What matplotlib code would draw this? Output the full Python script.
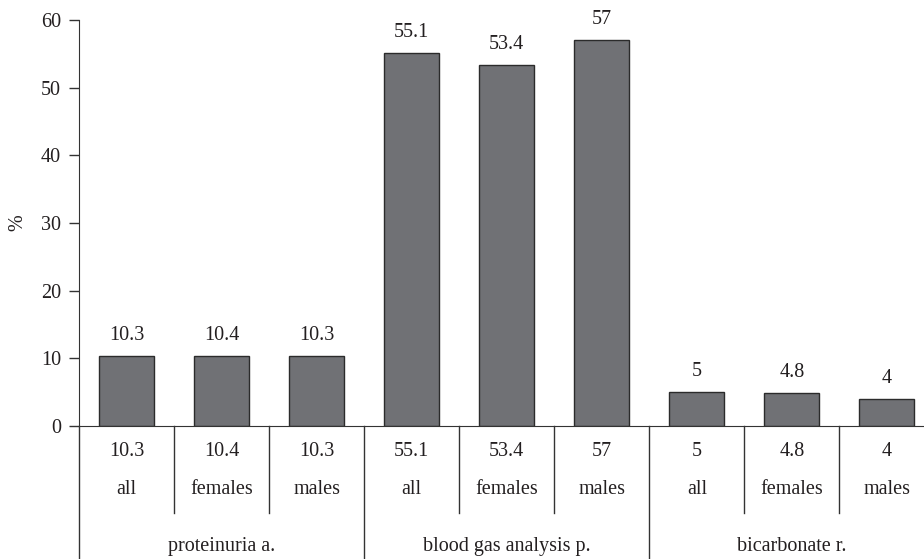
import matplotlib.pyplot as plt
import matplotlib.transforms as mtransforms

# data
groups = ["proteinuria a.", "blood gas analysis p.", "bicarbonate r."]
subgroups = ["all", "females", "males"]
values = [10.3, 10.4, 10.3, 55.1, 53.4, 57, 5, 4.8, 4]
value_labels = ["10.3", "10.4", "10.3", "55.1", "53.4", "57", "5", "4.8", "4"]
yticks = [0, 10, 20, 30, 40, 50, 60]

plt.rcParams["font.family"] = ["Liberation Serif", "DejaVu Serif"]
plt.rcParams["font.size"] = 14.5

fig = plt.figure(figsize=(9.24, 5.59), dpi=100)
ax = fig.add_axes([0.0855, 0.238, 0.9145, 0.726])

x = list(range(len(values)))
ax.bar(x, values, width=0.58, color="#707175", edgecolor="#2b2b2b", linewidth=1.0)

for xi, v, lab in zip(x, values, value_labels):
    ax.annotate(lab, (xi, v), xytext=(0, 8), textcoords="offset points",
                ha="center", va="bottom", color="#231f20")

ax.set_xlim(-0.5, 8.39)
ax.set_ylim(0, 60)
ax.set_yticks(yticks)
ax.set_xticks([])
ax.tick_params(axis="y", length=7, width=1, color="#333333", labelcolor="#231f20", pad=6)
for s in ["top", "right"]:
    ax.spines[s].set_visible(False)
ax.spines["left"].set_color("#333333")
ax.spines["bottom"].set_color("#333333")
ax.set_ylabel("%", color="#231f20", labelpad=10)

# table below the axis
trans = mtransforms.blended_transform_factory(ax.transData, ax.transAxes)
px = 1.0 / (0.726 * 559)  # one pixel in axes fraction
y_val = -26 * px
y_sub = -64 * px
y_grp = -121 * px
y_short = -87 * px
y_long = -135 * px

for xi, lab, sub in zip(x, value_labels, subgroups * 3):
    ax.text(xi, y_val, lab, transform=trans, ha="center", va="center", color="#231f20")
    ax.text(xi, y_sub, sub, transform=trans, ha="center", va="center", color="#231f20")

for gi, g in enumerate(groups):
    ax.text(gi * 3 + 1, y_grp, g, transform=trans, ha="center", va="center", color="#231f20")

for b in range(9):
    edge = b - 0.5
    bottom = y_long if b % 3 == 0 else y_short
    ax.plot([edge, edge], [0, bottom], transform=trans, color="#333333",
            linewidth=1, clip_on=False)

fig.savefig("out.png", dpi=100)
